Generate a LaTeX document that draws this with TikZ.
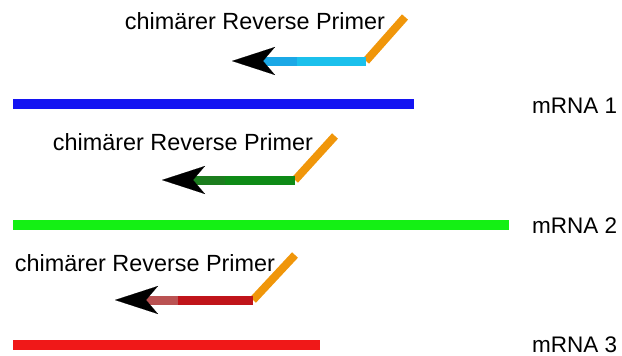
\documentclass[tikz,border=0pt]{standalone}
\usepackage{fontspec}
\setmainfont{Liberation Sans}
\usetikzlibrary{arrows.meta}

\definecolor{mrnablue}{RGB}{20,20,242}
\definecolor{mrnagreen}{RGB}{20,240,20}
\definecolor{mrnared}{RGB}{240,24,24}
\definecolor{tailorange}{RGB}{240,150,10}
\definecolor{cyanlight}{RGB}{27,192,236}
\definecolor{cyandark}{RGB}{27,168,230}
\definecolor{greenlight}{RGB}{14,138,22}
\definecolor{greendark}{RGB}{28,125,30}
\definecolor{redlight}{RGB}{192,20,26}
\definecolor{reddark}{RGB}{186,82,82}

\begin{document}
\begin{tikzpicture}[x=1pt,y=-1pt,
            mrna/.style={line width=10pt},
            primer/.style={line width=9pt},
            tailline/.style={line width=8pt, draw=tailorange},
            tip/.style={line width=0.1pt, draw=#1,
            -{Stealth[length=43pt,width=28pt,inset=12pt,color=black,fill=black]}},
            label/.style={font=\fontsize{23.4}{28}\selectfont, anchor=base, inner sep=0pt},
            rnalabel/.style={font=\fontsize{22.5}{27}\selectfont, anchor=base west, inner sep=0pt}]
        \useasboundingbox (0,0) rectangle (622,356);

        % mRNA strands
        \coordinate (m1a) at (13,104);  \coordinate (m1b) at (414,104);
        \coordinate (m2a) at (13,225);  \coordinate (m2b) at (509,225);
        \coordinate (m3a) at (13,345);  \coordinate (m3b) at (320,345);
        \draw[mrna, mrnablue] (m1a) -- (m1b);
        \draw[mrna, mrnagreen] (m2a) -- (m2b);
        \draw[mrna, mrnared] (m3a) -- (m3b);
        \node[rnalabel] (rna1) at (532,113) {mRNA 1};
        \node[rnalabel] (rna2) at (532,233) {mRNA 2};
        \node[rnalabel] (rna3) at (532,352) {mRNA 3};

        % primer 1
        \coordinate (p1tail) at (405,17);
        \coordinate (p1knee) at (366,61);
        \coordinate (p1mid) at (297,61);
        \coordinate (p1end) at (256,61);
        \coordinate (p1back) at (275,61);
        \coordinate (p1tip) at (232,61);
        \draw[tailline] (p1knee) -- (p1tail);
        \draw[primer, cyanlight] (p1knee) -- (p1mid);
        \draw[primer, cyandark] (p1mid) -- (p1end);
        \draw[tip=cyandark] (p1back) -- (p1tip);
        \node[label] (lab1) at (255,30) {chimärer Reverse Primer};

        % primer 2
        \coordinate (p2tail) at (335,136);
        \coordinate (p2knee) at (295,180);
        \coordinate (p2mid) at (225,180);
        \coordinate (p2end) at (186,180);
        \coordinate (p2back) at (205,180);
        \coordinate (p2tip) at (162,180);
        \draw[tailline] (p2knee) -- (p2tail);
        \draw[primer, greenlight] (p2knee) -- (p2mid);
        \draw[primer, greendark] (p2mid) -- (p2end);
        \draw[tip=greendark] (p2back) -- (p2tip);
        \node[label] (lab2) at (183,150) {chimärer Reverse Primer};

        % primer 3
        \coordinate (p3tail) at (295,255);
        \coordinate (p3knee) at (253,300);
        \coordinate (p3mid) at (178,300);
        \coordinate (p3end) at (139,300);
        \coordinate (p3back) at (158,300);
        \coordinate (p3tip) at (115,300);
        \draw[tailline] (p3knee) -- (p3tail);
        \draw[primer, redlight] (p3knee) -- (p3mid);
        \draw[primer, reddark] (p3mid) -- (p3end);
        \draw[tip=reddark] (p3back) -- (p3tip);
        \node[label] (lab3) at (145,271) {chimärer Reverse Primer};
    \end{tikzpicture}
\end{document}
